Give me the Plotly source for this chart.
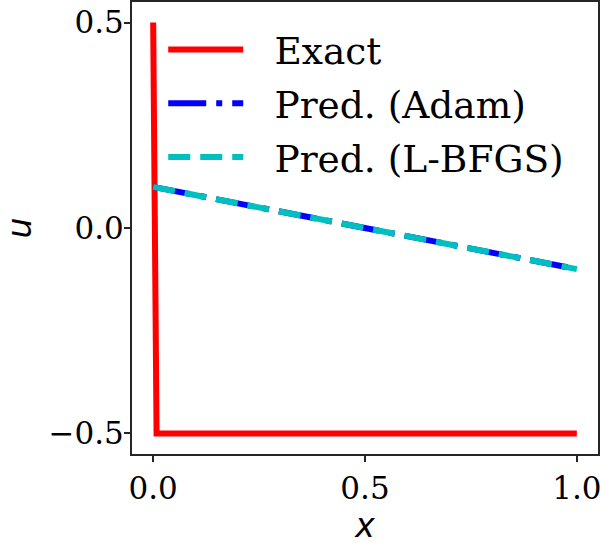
import plotly.graph_objects as go

x_exact = [0.0, 0.008, 1.0]
u_exact = [0.5, -0.5, -0.5]
x_pred = [0.0, 1.0]
u_adam = [0.1, -0.1]
u_lbfgs = [0.1, -0.1]
x_ticks = [0.0, 0.5, 1.0]
x_ticklabels = ["0.0", "0.5", "1.0"]
y_ticks = [-0.5, 0.0, 0.5]
y_ticklabels = ["\u22120.5", "0.0", "0.5"]
names = ["Exact", "Pred. (Adam)", "Pred. (L-BFGS)"]

pad = "\u2002\u2009"
fig = go.Figure()
fig.add_trace(go.Scatter(x=x_exact, y=u_exact, mode="lines", name=pad + names[0], legendgroup="a",
                         line=dict(color="#ff0000", width=6)))
fig.add_trace(go.Scatter(x=x_pred, y=u_adam, mode="lines", name=pad + names[1], legendgroup="b",
                         line=dict(color="#0000ff", width=6, dash="38px,10px,6px,10px")))
fig.add_trace(go.Scatter(x=x_pred, y=u_lbfgs, mode="lines", name=pad + names[2], legendgroup="c",
                         line=dict(color="#00bfbf", width=6, dash="22px,10px")))

axis_common = dict(showgrid=False, zeroline=False, showline=True, mirror=True,
                   linecolor="#262626", linewidth=2, ticks="outside", ticklen=6,
                   tickwidth=2, tickcolor="#262626", automargin=False,
                   tickfont=dict(family="DejaVu Serif", size=31, color="#000"))

fig.update_xaxes(range=[-0.05, 1.05], tickvals=x_ticks, ticktext=x_ticklabels,
                 title=dict(text="x", font=dict(family="DejaVu Sans", size=33, style="italic", color="#000")),
                 **axis_common)
fig.update_yaxes(range=[-0.55, 0.55], tickvals=y_ticks, ticktext=y_ticklabels,
                 ticklabelstandoff=-6,
                 title=dict(text="u", font=dict(family="DejaVu Sans", size=33, style="italic", color="#000")),
                 **axis_common)

fig.update_layout(
    width=602, height=545,
    margin=dict(l=132, r=4, t=2, b=91),
    plot_bgcolor="white", paper_bgcolor="white",
    showlegend=True,
    legend=dict(x=0.067, y=0.963, xanchor="left", yanchor="top", tracegroupgap=2,
                bgcolor="rgba(0,0,0,0)", borderwidth=0, itemwidth=75,
                font=dict(family="DejaVu Serif", size=37.5, color="#000")),
)

fig.write_html("out.html", config={"displayModeBar": False},
               post_script="document.body.style.margin='0';document.body.style.overflow='hidden';")
